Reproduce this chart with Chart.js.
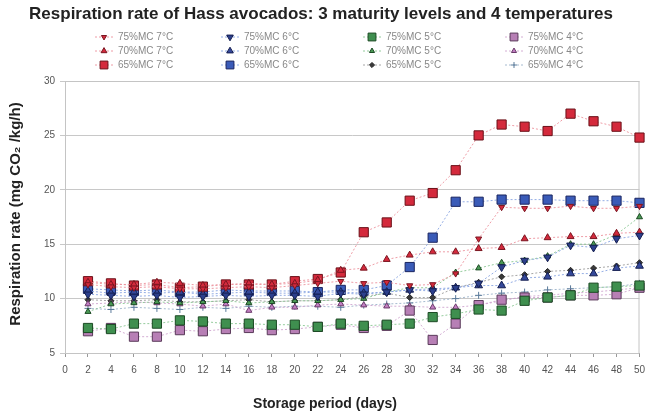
<!DOCTYPE html>
<html>
<head>
<meta charset="utf-8">
<script src="https://cdn.jsdelivr.net/npm/chart.js@4.4.1/dist/chart.umd.min.js"></script>
<style>
  body { margin: 0; background: #fff; }
  canvas { display: block; }
</style>
</head>
<body>
<canvas id="resp" width="647" height="414"></canvas>
<script>
const days = [2, 4, 6, 8, 10, 12, 14, 16, 18, 20, 22, 24, 26, 28, 30, 32, 34, 36, 38, 40, 42, 44, 46, 48, 50];
const xTicks = [0, 2, 4, 6, 8, 10, 12, 14, 16, 18, 20, 22, 24, 26, 28, 30, 32, 34, 36, 38, 40, 42, 44, 46, 48, 50];
const yTicks = [5, 10, 15, 20, 25, 30];

const mc75t7 = [11.3, 11.1, 11.0, 11.1, 10.9, 10.9, 11.0, 11.1, 11.0, 11.2, 11.4, 11.6, 11.4, 11.5, 11.2, 11.3, 12.3, 15.5, 18.4, 18.3, 18.3, 18.5, 18.3, 18.3, 18.5];
const mc75t6 = [10.4, 10.3, 10.2, 10.3, 10.1, 10.2, 10.3, 10.2, 10.3, 10.3, 10.2, 10.5, 10.4, 10.6, 10.8, 10.7, 11.0, 11.4, 12.9, 13.5, 13.8, 14.9, 14.7, 15.5, 15.8];
const mc75t5 = [7.3, 7.2, 7.7, 7.7, 8.0, 7.9, 7.7, 7.7, 7.6, 7.6, 7.4, 7.7, 7.5, 7.6, 7.7, 8.3, 8.6, 9.0, 8.9, 9.8, 10.1, 10.3, 11.0, 11.1, 11.2];
const mc75t4 = [7.0, 7.3, 6.5, 6.5, 7.1, 7.0, 7.2, 7.3, 7.1, 7.2, 7.4, 7.6, 7.3, 7.5, 8.9, 6.2, 7.7, 9.4, 9.9, 10.1, 10.1, 10.3, 10.3, 10.4, 11.0];
const mc70t7 = [11.5, 11.3, 11.3, 11.5, 11.4, 11.2, 11.3, 11.4, 11.3, 11.4, 11.7, 12.6, 12.8, 13.6, 14.0, 14.3, 14.3, 14.6, 14.7, 15.5, 15.6, 15.7, 15.7, 16.0, 16.1];
const mc70t6 = [10.7, 10.5, 10.6, 10.5, 10.6, 10.4, 10.5, 10.6, 10.5, 10.5, 10.6, 10.6, 10.5, 10.6, 10.8, 10.9, 11.0, 11.2, 11.2, 11.9, 12.0, 12.3, 12.3, 12.8, 13.0];
const mc70t5 = [8.8, 9.5, 9.6, 9.7, 9.6, 9.7, 9.8, 9.6, 9.7, 9.8, 9.8, 9.9, 10.0, 10.6, 11.0, 11.0, 12.4, 12.8, 13.3, 13.5, 13.9, 15.0, 15.0, 15.9, 17.5];
const mc70t4 = [9.5, 9.6, 9.7, 9.6, 9.5, 9.3, 9.5, 8.9, 9.2, 9.2, 9.4, 9.5, 9.4, 9.3, 9.3, 9.2, 9.2, 9.4, 9.8, 10.2, 10.3, 10.5, 10.6, 10.8, 11.0];
const mc65t7 = [11.6, 11.4, 11.2, 11.3, 11.0, 11.1, 11.3, 11.3, 11.3, 11.6, 11.8, 12.4, 16.1, 17.0, 19.0, 19.7, 21.8, 25.0, 26.0, 25.8, 25.4, 27.0, 26.3, 25.8, 24.8];
const mc65t6 = [10.9, 10.8, 10.7, 10.8, 10.6, 10.6, 10.8, 10.7, 10.7, 10.7, 10.6, 10.8, 10.8, 11.2, 12.9, 15.6, 18.9, 18.9, 19.1, 19.1, 19.1, 19.0, 19.0, 19.0, 18.8];
const mc65t5 = [9.9, 9.8, 9.8, 9.9, 9.7, 9.7, 9.8, 9.9, 9.7, 9.8, 9.8, 9.9, 10.2, 10.5, 10.1, 10.1, 11.0, 11.5, 12.0, 12.2, 12.5, 12.6, 12.8, 13.0, 13.3];
const mc65t4 = [9.1, 9.0, 9.2, 9.1, 9.0, 9.2, 9.1, 9.3, 9.2, 9.3, 9.3, 9.2, 9.4, 9.5, 9.6, 9.8, 10.0, 10.3, 10.5, 10.6, 10.8, 10.9, 11.0, 11.1, 11.4];

const red = "#d42a3c", blue = "#3a5bb8", green = "#3f8f4f", mauve = "#b77fb5";
const redLine = "rgba(235,140,150,0.85)", blueLine = "rgba(130,160,225,0.85)";
const greenLine = "rgba(130,195,140,0.85)", mauveLine = "rgba(205,160,205,0.85)";
const font = "'Liberation Sans', Arial, sans-serif";

function series(label, values, fill, edge, line, style, radius, rotation) {
  return {
    label: label,
    data: values.map((v, i) => ({ x: days[i], y: v })),
    borderColor: line,
    borderWidth: 1,
    borderDash: [2, 2],
    backgroundColor: fill,
    pointBackgroundColor: fill,
    pointBorderColor: edge,
    pointBorderWidth: 1,
    pointStyle: style,
    pointRadius: radius,
    pointRotation: rotation || 0,
    tension: 0,
    clip: false
  };
}

const datasets = [
  series("75%MC 7°C", mc75t7, red, "#7a1520", redLine, "triangle", 3.5, 180),
  series("75%MC 6°C", mc75t6, "#2c3f8c", "#141e50", blueLine, "triangle", 4.5, 180),
  series("75%MC 5°C", mc75t5, green, "#1c4a24", greenLine, "rect", 6.5),
  series("75%MC 4°C", mc75t4, mauve, "#5a3a5a", mauveLine, "rect", 6.5),
  series("70%MC 7°C", mc70t7, red, "#7a1520", redLine, "triangle", 4),
  series("70%MC 6°C", mc70t6, "#34489a", "#141e50", blueLine, "triangle", 4.5),
  series("70%MC 5°C", mc70t5, "#4a9a55", "#1c4a24", greenLine, "triangle", 3.5),
  series("70%MC 4°C", mc70t4, "#c37fc3", "#6a3a6a", mauveLine, "triangle", 3.5),
  series("65%MC 7°C", mc65t7, red, "#6a1018", redLine, "rect", 6.5),
  series("65%MC 6°C", mc65t6, blue, "#1a2560", blueLine, "rect", 6.5),
  series("65%MC 5°C", mc65t5, "#3a3a3a", "#222", "rgba(150,150,150,0.85)", "rectRot", 3),
  series("65%MC 4°C", mc65t4, "#5a7a9a", "#5a7a9a", "rgba(150,175,200,0.85)", "cross", 3.5)
];

const legendX = [104, 230, 372, 514];
const legendY = [37, 51, 65];

const chrome = {
  id: "chrome",
  beforeDatasetsDraw(chart) {
    const { ctx, chartArea: a } = chart;
    ctx.save();
    ctx.strokeStyle = "#c4c4c4";
    ctx.lineWidth = 1;
    ctx.strokeRect(a.left + 0.5, a.top + 0.5, a.right - a.left - 1, a.bottom - a.top);
    ctx.restore();
  },
  afterDraw(chart) {
    const ctx = chart.ctx;
    ctx.save();
    ctx.fillStyle = "#222";
    ctx.textAlign = "center";
    ctx.textBaseline = "middle";
    ctx.font = "bold 17px " + font;
    ctx.fillText("Respiration rate of Hass avocados: 3 maturity levels and 4 temperatures", 321, 14);

    // axis titles
    ctx.font = "bold 14px " + font;
    ctx.fillText("Storage period (days)", 325, 404);
    ctx.save();
    ctx.translate(16, 214);
    ctx.rotate(-Math.PI / 2);
    ctx.font = "bold 15px " + font;
    ctx.fillText("Respiration rate (mg CO₂ /kg/h)", 0, 0);
    ctx.restore();

    ctx.font = "10px " + font;
    ctx.textAlign = "left";
    chart.data.datasets.forEach((ds, i) => {
      const x = legendX[i % 4];
      const y = legendY[Math.floor(i / 4)];
      ctx.strokeStyle = ds.borderColor;
      ctx.lineWidth = 1;
      ctx.setLineDash([2, 2]);
      ctx.beginPath();
      ctx.moveTo(x - 9, y);
      ctx.lineTo(x + 9, y);
      ctx.stroke();
      ctx.setLineDash([]);
      ctx.fillStyle = ds.pointBackgroundColor;
      ctx.strokeStyle = ds.pointBorderColor;
      Chart.helpers.drawPoint(ctx, {
        pointStyle: ds.pointStyle,
        radius: ds.pointRadius * 0.85,
        rotation: ds.pointRotation,
        borderWidth: 1
      }, x, y);
      ctx.fillStyle = "#888";
      ctx.fillText(ds.label, x + 14, y);
    });
    ctx.restore();
  }
};

new Chart("resp", {
  type: "line",
  data: { datasets: datasets },
  plugins: [chrome],
  options: {
    responsive: false,
    animation: false,
    layout: { padding: { top: 81, right: 0, left: 0, bottom: 0 } },
    plugins: {
      legend: { display: false },
      tooltip: { enabled: false }
    },
    scales: {
      x: {
        type: "linear",
        min: 0,
        max: 50,
        afterFit: s => { s.height = 61; s.paddingRight = 3; },
        afterBuildTicks: s => { s.ticks = xTicks.map(v => ({ value: v })); },
        grid: { drawOnChartArea: false, drawTicks: true, tickLength: 4, color: "#999" },
        border: { color: "#999" },
        ticks: { color: "#555", padding: 7, maxRotation: 0, autoSkip: false, font: { family: font, size: 10 } }
      },
      y: {
        min: 5,
        max: 30,
        afterFit: s => { s.width = 65; },
        afterBuildTicks: s => { s.ticks = yTicks.map(v => ({ value: v })); },
        grid: { color: "#c8c8c8", tickLength: 5 },
        border: { color: "#999" },
        ticks: { color: "#555", padding: 5, font: { family: font, size: 10 } }
      }
    }
  }
});
</script>
</body>
</html>
